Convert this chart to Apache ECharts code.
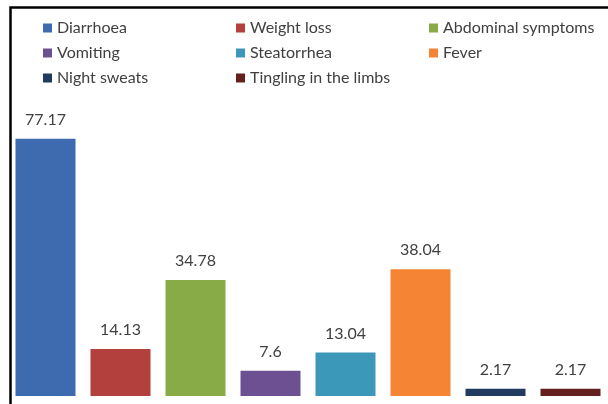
<!DOCTYPE html>
<html>
<head>
<meta charset="utf-8">
<script src="https://cdn.jsdelivr.net/npm/echarts@6/dist/echarts.min.js"></script>
<style>
  html, body { margin: 0; padding: 0; background: #fff; }
  #main { width: 608px; height: 404px; }
</style>
</head>
<body>
<div id="main"></div>
<script>
  var symptoms = ['Diarrhoea', 'Weight loss', 'Abdominal symptoms', 'Vomiting',
                  'Steatorrhea', 'Fever', 'Night sweats', 'Tingling in the limbs'];
  var percents = [77.17, 14.13, 34.78, 7.6, 13.04, 38.04, 2.17, 2.17];
  var colors = ['#3E6BB0', '#B3403C', '#89AB47', '#6C5092',
                '#3C98B8', '#F58435', '#213A5F', '#64201F'];

  var myChart = echarts.init(document.getElementById('main'));

  // one series per symptom so the legend can list them; stacked so each sits centred in its slot
  var series = [];
  symptoms.forEach(function (name, i) {
    var data = symptoms.map(function (s, j) { return j === i ? percents[i] : null; });
    series.push({
      name: name,
      type: 'bar',
      stack: 'all',
      barCategoryGap: '20%',
      data: data,
      itemStyle: { color: colors[i] },
      label: {
        show: true,
        position: 'top',
        distance: 11,
        color: '#404040',
        fontSize: 16,
        fontFamily: 'Lato'
      }
    });
  });

  var legendText = { color: '#404040', fontSize: 16, fontFamily: 'Lato' };
  function col(names, left) {
    return {
      data: names,
      orient: 'vertical',
      left: left,
      top: 15,
      itemGap: 9,
      itemWidth: 9,
      itemHeight: 9,
      icon: 'rect',
      textStyle: legendText,
      selectedMode: false
    };
  }

  var option = {
    backgroundColor: '#fff',
    animation: false,
    color: colors,
    legend: [
      col(['Diarrhoea', 'Vomiting', 'Night sweats'], 38),
      col(['Weight loss', 'Steatorrhea', 'Tingling in the limbs'], 231),
      col(['Abdominal symptoms', 'Fever'], 424)
    ],
    grid: { left: 8, width: 605, top: 96, bottom: 8 },
    xAxis: {
      type: 'category',
      data: symptoms,
      axisLine: { show: false },
      axisTick: { show: false },
      axisLabel: { show: false }
    },
    yAxis: {
      type: 'value',
      min: 0,
      max: 90,
      show: false,
      splitLine: { show: false }
    },
    graphic: [{
      type: 'rect',
      shape: { x: 10.5, y: 7.5, width: 640, height: 440 },
      style: { fill: 'none', stroke: '#000', lineWidth: 2.5 },
      z: 100
    }],
    series: series
  };

  myChart.setOption(option);
</script>
</body>
</html>
